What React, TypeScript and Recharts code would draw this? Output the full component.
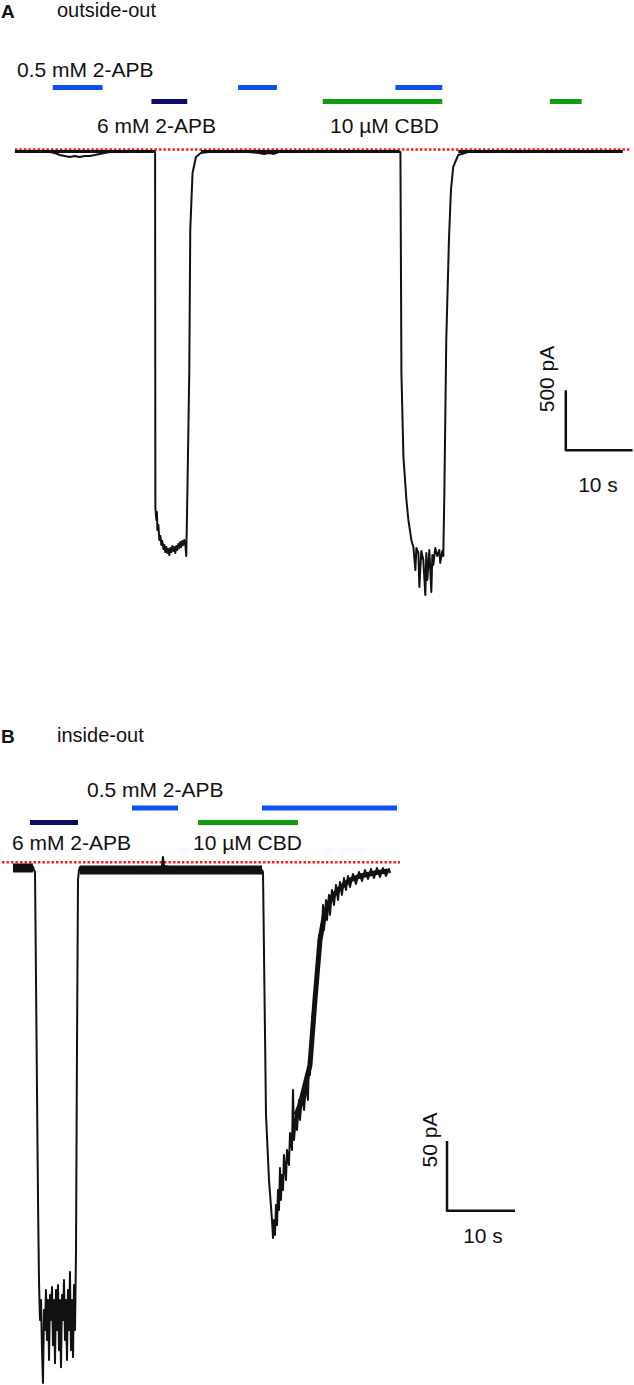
import { Line, LineChart, XAxis, YAxis } from "recharts";

type Pt = [number, number | null];

// time in s, current in pA

// A: outside-out
const traceA: Pt[] = [
  [2.24, -12], [2.99, -21], [3.73, -12], [4.48, -21], [5.22, -12], [5.97, -21], [6.72, -12], [7.46, -21],
  [8.21, -29], [8.96, -46], [9.7, -54], [10.45, -62], [11.19, -54], [11.94, -62], [12.69, -54], [13.43, -54],
  [14.18, -46], [14.93, -37], [15.67, -29], [16.42, -21], [17.91, -12], [19.4, -21], [20.9, -12], [22.39, -21],
  [23.13, -12], [23.24, -21], [23.28, -2978],
  [23.43, -3078], [23.51, -3012], [23.58, -3162], [23.73, -3120], [23.88, -3245], [24.03, -3212], [24.18, -3286],
  [24.33, -3253], [24.48, -3320], [24.63, -3286], [24.78, -3345], [24.93, -3303], [25.07, -3353], [25.22, -3320],
  [25.37, -3370], [25.52, -3312], [25.67, -3345], [25.82, -3295], [25.97, -3336], [26.12, -3303], [26.27, -3353],
  [26.42, -3295], [26.57, -3328], [26.72, -3278], [26.87, -3312], [27.01, -3261], [27.16, -3303], [27.31, -3253],
  [27.46, -3286], [27.61, -3245], [27.76, -3278], [27.91, -3378],
  [28.06, -2913], [28.36, -1857], [28.51, -669], [28.85, -195], [29.36, -62], [30.1, -29], [32.34, -12],
  [34.33, -21], [35.82, -12], [37.31, -21], [38.81, -29], [39.55, -37], [40.3, -29], [41.04, -37], [41.79, -21],
  [43.28, -12], [44.78, -21], [46.27, -12], [47.76, -21], [49.25, -12], [50.75, -21], [52.24, -12], [53.73, -21],
  [55.22, -12], [56.72, -21], [58.21, -12], [59.85, -21],
  [60.0, -21], [60.15, -1857], [60.45, -2555], [60.9, -2913], [61.19, -3078], [61.64, -3245],
  [61.94, -3303], [62.24, -3495], [62.39, -3312], [62.69, -3353], [62.84, -3636], [63.13, -3336], [63.43, -3411],
  [63.73, -3702], [63.88, -3353], [64.03, -3578], [64.33, -3328], [64.63, -3677], [64.78, -3370], [64.93, -3453],
  [65.22, -3312], [65.52, -3378], [65.82, -3328], [65.97, -3436], [66.27, -3336], [66.42, -3378],
  [66.57, -2913], [66.87, -1583], [67.27, -752], [67.57, -337], [67.91, -145], [68.66, -46], [70.15, -21],
  [71.64, -12], [74.63, -21], [77.61, -12], [80.6, -21], [83.58, -12], [86.57, -21], [89.55, -12], [93.28, -21],
];

const noiseA: Pt[] = [
  [2.24, -16], [23.13, -16], [23.2, null], [30.1, -16], [59.85, -16], [62, null], [68.66, -16], [93.28, -16],
];

const zeroA: Pt[] = [[2.24, 0], [94.3, 0]];

const blueA1: Pt[] = [[7.91, 515], [15.37, 515]];
const blueA2: Pt[] = [[35.67, 515], [41.49, 515]];
const blueA3: Pt[] = [[59.25, 515], [66.27, 515]];
const navyA: Pt[] = [[22.69, 399], [28.06, 399]];
const greenA1: Pt[] = [[48.36, 399], [66.27, 399]];
const greenA2: Pt[] = [[82.39, 399], [87.16, 399]];

const scaleA: Pt[] = [[84.78, -2000], [84.78, -2500], [94.78, -2500]];

// B: inside-out
const traceB: Pt[] = [
  [1.91, -4.2], [2.94, -2.7], [3.97, -5.6], [4.85, -3.4], [5.0, -5.6],
  [5.15, -7.0], [5.59, -242.3], [5.74, -301.8],
  [5.88, -328.4], [6.03, -314.0], [6.18, -350.0], [6.32, -373.6], [6.47, -321.2], [6.62, -335.6], [6.76, -306.9],
  [6.91, -342.8], [7.06, -314.0], [7.21, -357.1], [7.35, -310.5], [7.5, -328.4], [7.65, -304.7], [7.79, -346.4],
  [7.94, -314.0], [8.09, -359.3], [8.24, -306.9], [8.38, -335.6], [8.53, -303.3], [8.68, -350.0], [8.82, -314.0],
  [8.97, -362.2], [9.12, -310.5], [9.26, -328.4], [9.41, -299.7], [9.56, -342.8], [9.71, -314.0], [9.85, -357.1],
  [10.0, -306.9], [10.15, -335.6], [10.29, -294.0], [10.44, -350.0], [10.59, -314.0], [10.74, -355.0],
  [10.88, -303.3], [11.03, -335.6],
  [11.18, -278.2], [11.32, -134.7], [11.47, -12.8], [11.62, -5.6], [11.76, -3.4],
  [14.71, -4.9], [17.65, -3.4], [20.59, -5.6], [23.53, -4.2], [23.82, -2.7], [23.97, 3.7], [24.12, -2.7],
  [26.47, -4.9], [29.41, -3.4], [32.35, -5.6], [35.29, -4.2], [38.53, -5.6],
  [38.68, -7.0], [38.82, -63.0], [39.12, -181.3], [39.56, -227.9], [40.0, -256.6], [40.15, -269.5],
  [40.29, -256.6], [40.44, -267.4], [40.59, -245.9], [40.74, -260.2], [40.88, -235.1], [41.03, -249.5],
  [41.18, -219.3], [41.32, -242.3], [41.47, -224.3], [41.62, -235.1], [41.76, -210.0], [42.06, -227.9],
  [42.21, -206.4], [42.5, -217.2], [42.65, -194.2], [42.94, -206.4], [43.09, -163.4], [43.24, -199.2],
  [43.53, -181.3], [43.68, -192.1], [43.97, -170.5], [44.12, -184.9], [44.41, -167.0], [44.71, -177.7],
  [45.0, -159.8], [45.29, -170.5], [45.44, -141.9], [45.59, -152.6], [45.74, -127.5], [45.88, -134.7],
  [46.03, -106.0], [46.18, -116.8], [46.32, -91.7], [46.47, -98.8], [46.62, -70.1], [46.76, -73.7],
  [46.91, -52.2], [47.06, -63.0], [47.21, -45.0], [47.35, -52.2], [47.5, -30.7], [47.65, -48.6],
  [47.94, -27.1], [48.09, -41.5], [48.38, -23.5], [48.53, -37.8], [48.82, -19.9], [49.12, -30.7],
  [49.41, -16.4], [49.71, -27.1], [50.0, -14.2], [50.29, -23.5], [50.59, -11.3], [50.88, -19.9],
  [51.18, -9.9], [51.47, -17.8], [51.91, -8.5], [52.35, -15.6], [52.79, -7.0], [53.24, -13.5],
  [53.68, -5.6], [54.12, -12.0], [54.56, -4.9], [55.0, -11.3], [55.44, -4.2], [55.88, -10.6],
  [56.32, -4.2], [56.76, -9.9], [57.21, -4.9], [57.35, -7.7],
];

const noiseB: Pt[] = [
  [1.91, -4.2], [4.85, -4.2], [8, null], [11.76, -5.6], [38.53, -5.6],
];

const recoveryBandB: Pt[] = [
  [43.53, -181.3], [44.12, -174.1], [45.59, -145.5], [46.32, -98.8], [47.06, -55.8], [47.79, -35.7], [48.82, -24.9],
  [50.0, -18.5], [51.47, -12.8], [52.94, -9.9], [55.15, -7.7], [57.06, -6.3],
];

const zeroB: Pt[] = [[0.29, 0], [58.82, 0]];

const blueB1: Pt[] = [[19.41, 38.9], [26.18, 38.9]];
const blueB2: Pt[] = [[38.53, 38.9], [58.38, 38.9]];
const navyB: Pt[] = [[4.41, 28.5], [11.47, 28.5]];
const greenB: Pt[] = [[29.12, 28.5], [43.82, 28.5]];

const scaleB: Pt[] = [[65.74, -200], [65.74, -250], [75.74, -250]];

const BLUE = "#0b50f0";
const NAVY = "#0c0c66";
const GREEN = "#129a12";
const RED = "#ff1a1a";
const INK = "#111";
const FONT = "'Liberation Sans', Arial, sans-serif";

const rows = (pts: Pt[]) => pts.map(([t, i]) => ({ t, i }));

interface Series {
  pts: Pt[];
  color: string;
  width: number;
  dash?: string;
}

function Trace({ w, h, xMax, yDomain, series }: { w: number; h: number; xMax: number; yDomain: [number, number]; series: Series[] }) {
  return (
    <LineChart width={w} height={h} margin={{ top: 0, right: 0, bottom: 0, left: 0 }}>
      <XAxis type="number" dataKey="t" domain={[0, xMax]} hide allowDataOverflow />
      <YAxis type="number" domain={yDomain} hide allowDataOverflow />
      {series.map((s, k) => (
        <Line
          key={k}
          data={rows(s.pts)}
          dataKey="i"
          type="linear"
          stroke={s.color}
          strokeWidth={s.width}
          strokeDasharray={s.dash}
          strokeLinecap="butt"
          strokeLinejoin="round"
          dot={false}
          activeDot={false}
          isAnimationActive={false}
        />
      ))}
    </LineChart>
  );
}

const seriesA: Series[] = [
  { pts: zeroA, color: RED, width: 2.5, dash: "2.5 2" },
  { pts: noiseA, color: INK, width: 3 },
  { pts: traceA, color: INK, width: 2 },
  { pts: blueA1, color: BLUE, width: 5 },
  { pts: blueA2, color: BLUE, width: 5 },
  { pts: blueA3, color: BLUE, width: 5 },
  { pts: navyA, color: NAVY, width: 5 },
  { pts: greenA1, color: GREEN, width: 5 },
  { pts: greenA2, color: GREEN, width: 5 },
  { pts: scaleA, color: INK, width: 2.5 },
];

const seriesB: Series[] = [
  { pts: zeroB, color: RED, width: 2.5, dash: "2.5 2" },
  { pts: noiseB, color: INK, width: 9 },
  { pts: recoveryBandB, color: INK, width: 5 },
  { pts: traceB, color: INK, width: 2 },
  { pts: blueB1, color: BLUE, width: 5 },
  { pts: blueB2, color: BLUE, width: 5 },
  { pts: navyB, color: NAVY, width: 5 },
  { pts: greenB, color: GREEN, width: 5 },
  { pts: scaleB, color: INK, width: 2.5 },
];

export default function App() {
  const txt = { fontFamily: FONT, fontSize: 21, fill: INK };
  return (
    <div style={{ position: "relative", width: 634, height: 1385, background: "#fff" }}>
      <style>{"body{margin:0}"}</style>
      <div style={{ position: "absolute", left: 0, top: 0 }}>
        <Trace w={634} h={620} xMax={95} yDomain={[-3910, 1242]} series={seriesA} />
      </div>
      <div style={{ position: "absolute", left: 0, top: 660 }}>
        <Trace w={634} h={725} xMax={93.24} yDomain={[-375, 145]} series={seriesB} />
      </div>
      <svg width={634} height={1385} style={{ position: "absolute", left: 0, top: 0, pointerEvents: "none" }}>
        <text x={1} y={18} style={{ ...txt, fontSize: 19, fontWeight: "bold" }}>A</text>
        <text x={57} y={17} style={{ ...txt, fontSize: 20 }}>outside-out</text>
        <text x={17} y={77} style={txt}>0.5 mM 2-APB</text>
        <text x={97} y={133} style={txt}>6 mM 2-APB</text>
        <text x={330} y={133} style={txt}>10 µM CBD</text>
        <text transform="translate(554 379) rotate(-90)" textAnchor="middle" style={txt}>500 pA</text>
        <text x={598} y={492} textAnchor="middle" style={txt}>10 s</text>

        <text x={1} y={743} style={{ ...txt, fontSize: 19, fontWeight: "bold" }}>B</text>
        <text x={57} y={742} style={{ ...txt, fontSize: 20 }}>inside-out</text>
        <text x={87} y={797} style={txt}>0.5 mM 2-APB</text>
        <text x={12} y={850} style={txt}>6 mM 2-APB</text>
        <text x={193} y={850} style={txt}>10 µM CBD</text>
        <text transform="translate(437 1140) rotate(-90)" textAnchor="middle" style={txt}>50 pA</text>
        <text x={483} y={1243} textAnchor="middle" style={txt}>10 s</text>
      </svg>
    </div>
  );
}
